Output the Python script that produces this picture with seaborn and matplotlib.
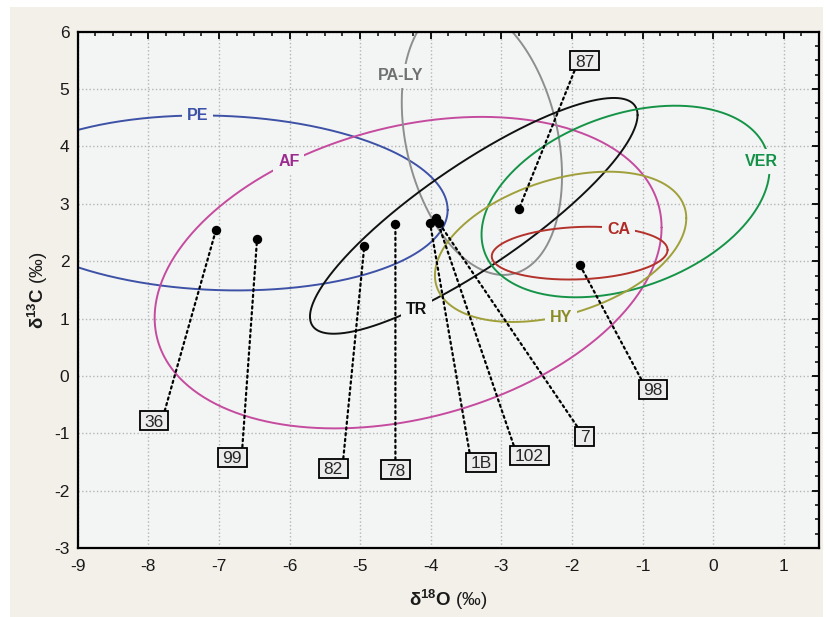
import numpy as np
import matplotlib
matplotlib.use("Agg")
import matplotlib.pyplot as plt
import seaborn as sns
import pandas as pd
from matplotlib.path import Path
from matplotlib.ticker import MultipleLocator
from matplotlib.patches import Rectangle

# ---------------- data ----------------
sample_ids = ['36', '99', '82', '78', '1B', '102', '7', '87', '98']
d18O = [-7.04, -6.46, -4.94, -4.50, -4.01, -3.92, -3.885, -2.75, -1.89]
d13C = [2.55, 2.38, 2.27, 2.64, 2.67, 2.75, 2.67, 2.91, 1.94]
label_x = [-7.92, -6.81, -5.38, -4.50, -3.29, -2.60, -1.82, -1.82, -0.85]
label_y = [-0.81, -1.44, -1.64, -1.66, -1.53, -1.41, -1.08, 5.47, -0.26]

groups = ['PE', 'AF', 'PA-LY', 'TR', 'VER', 'HY', 'CA']
ell_cx = [-7.00, -4.32, -3.275, -3.39, -1.24, -2.16, -1.89]
ell_cy = [3.015, 1.80, 4.13, 2.79, 3.04, 2.25, 2.14]
ell_hx = [3.24, 3.59, 1.135, 2.32, 2.04, 1.78, 1.245]
ell_hy = [1.525, 2.715, 2.37, 2.055, 1.67, 1.31, 0.46]
ell_r = [-0.08, 0.29, -0.27, 0.855, 0.345, 0.38, 0.12]
grp_label_x = [-7.30, -6.01, -4.42, -4.20, 0.69, -2.16, -1.34]
grp_label_y = [4.54, 3.74, 5.23, 1.15, 3.74, 1.01, 2.56]

x_ticks = [-9, -8, -7, -6, -5, -4, -3, -2, -1, 0, 1]
y_ticks = [-3, -2, -1, 0, 1, 2, 3, 4, 5, 6]

# ---------------- styles ----------------
line_colors = ['#3d51a6', '#c54b9f', '#8e8e8e', '#111111', '#159447', '#a0a03a', '#b3322b']
text_colors = ['#3b52a8', '#9c2b90', '#707070', '#111111', '#139148', '#8c8c26', '#b02a25']
leader_relpos = [(1, 1), (1, 1), (1, 1), (0.5, 1), (0, 1), (0, 1), (0, 1), (0, 0), (0, 1)]

sns.set_style("white")
plt.rcParams['font.family'] = ['Liberation Sans', 'DejaVu Sans']
plt.rcParams['axes.unicode_minus'] = False
plt.rcParams['mathtext.fontset'] = 'custom'
plt.rcParams['mathtext.rm'] = 'Liberation Sans'
plt.rcParams['mathtext.bf'] = 'Liberation Sans:bold'

AX_BG = '#f3f4f4'

fig = plt.figure(figsize=(8.27, 6.17), dpi=100, facecolor='white')
fig.patches.append(Rectangle((10 / 827, 0), (823 - 10) / 827, (617 - 7) / 617,
                             transform=fig.transFigure, fc='#f3f0e9', ec='none', zorder=-10))
ax = fig.add_axes([77.7 / 827, 1 - 548 / 617, (819 - 77.7) / 827, (548 - 31.7) / 617])
ax.set_facecolor(AX_BG)

# ellipses
t = np.linspace(0, 2 * np.pi, 500)
for i, g in enumerate(groups):
    r = ell_r[i]
    ex = ell_cx[i] + ell_hx[i] * np.cos(t)
    ey = ell_cy[i] + ell_hy[i] * (r * np.cos(t) + np.sqrt(1 - r * r) * np.sin(t))
    sns.lineplot(x=ex, y=ey, sort=False, estimator=None, color=line_colors[i],
                 lw=1.4, ax=ax, legend=False, zorder=2)
    ax.text(grp_label_x[i], grp_label_y[i], g, color=text_colors[i], fontsize=11.5,
            fontweight='bold', ha='center', va='center', zorder=3,
            bbox=dict(boxstyle='square,pad=0.3', fc=AX_BG, ec='none'))

# labelled points
df = pd.DataFrame({'d18O': d18O, 'd13C': d13C, 'id': sample_ids})
sns.scatterplot(data=df, x='d18O', y='d13C', color='black', s=46, edgecolor='black',
                linewidth=0, ax=ax, zorder=6, legend=False)


def label_box(x0, y0, width, height, mutation_size):
    padx = 0.27 * mutation_size
    pt = 0.2 * mutation_size
    pb = 0.03 * mutation_size
    return Path([(x0 - padx, y0 - pb), (x0 + width + padx, y0 - pb),
                 (x0 + width + padx, y0 + height + pt), (x0 - padx, y0 + height + pt),
                 (x0 - padx, y0 - pb)], closed=True)


for i, sid in enumerate(sample_ids):
    ax.annotate(sid, xy=(d18O[i], d13C[i]), xytext=(label_x[i], label_y[i]),
                textcoords='data', ha='center', va='center', fontsize=12.5, zorder=5,
                bbox=dict(boxstyle=label_box, fc='#ececec', ec='black', lw=1.3),
                arrowprops=dict(arrowstyle='-', ls=(0, (1, 1.6)), lw=1.6, color='black',
                                relpos=leader_relpos[i], shrinkA=0, shrinkB=0))

# axes
ax.set_xlim(-9, 1.5)
ax.set_ylim(-3, 6)
ax.set_xticks(x_ticks)
ax.set_yticks(y_ticks)
ax.xaxis.set_minor_locator(MultipleLocator(0.25))
ax.yaxis.set_minor_locator(MultipleLocator(0.25))
ax.tick_params(which='both', direction='in', top=True, right=True, colors='black')
ax.tick_params(which='major', length=5, width=1.3, labelsize=12.5, labelcolor='#1a1a1a')
ax.tick_params(which='minor', length=2.6, width=1.1)
ax.tick_params(axis='x', which='major', pad=8)
ax.tick_params(axis='y', which='major', pad=6)
ax.grid(True, which='major', ls=':', color='#b5b5b5', lw=1.0, zorder=0)
ax.set_axisbelow(True)
for s in ax.spines.values():
    s.set_visible(True)
    s.set_color('black')
    s.set_linewidth(1.6)

ax.set_xlabel(r'$\mathbf{δ^{18}O}$ (‰)', fontsize=13.5, labelpad=10, color='#1a1a1a')
ax.set_ylabel(r'$\mathbf{δ^{13}C}$ (‰)', fontsize=13.5, labelpad=3, color='#1a1a1a')

fig.savefig('out.png', dpi=100, facecolor=fig.get_facecolor())
